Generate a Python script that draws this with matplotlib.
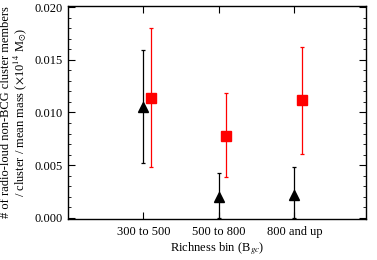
import matplotlib.pyplot as plt
from matplotlib.ticker import MultipleLocator

bins = ['300 to 500', '500 to 800', '800 and up']
pos = [1, 2, 3]

black_y = [0.0105, 0.0020, 0.0022]
black_lo = [0.0052, 0.0000, 0.0000]
black_hi = [0.0159, 0.0043, 0.0048]

red_y = [0.0114, 0.0078, 0.0112]
red_lo = [0.0048, 0.0039, 0.0061]
red_hi = [0.0180, 0.0118, 0.0162]

plt.rcParams['font.family'] = ['Liberation Serif', 'DejaVu Serif']
plt.rcParams['mathtext.fontset'] = 'stix'

fig = plt.figure(figsize=(3.77, 2.60), dpi=100)
ax = fig.add_axes([0.180, 0.158, 0.791, 0.819])

bx = [p for p in pos]
rx = [p + 0.1 for p in pos]
b_err = [[y - l for y, l in zip(black_y, black_lo)], [h - y for y, h in zip(black_y, black_hi)]]
r_err = [[y - l for y, l in zip(red_y, red_lo)], [h - y for y, h in zip(red_y, red_hi)]]

ax.errorbar(bx, black_y, yerr=b_err, fmt='^', color='black', ms=6.5,
            elinewidth=0.9, capsize=1.5, capthick=0.9)
ax.errorbar(rx, red_y, yerr=r_err, fmt='s', color='#ff0000', ms=7,
            elinewidth=0.9, capsize=1.5, capthick=0.9, ecolor='#ff0000')

ax.set_xlim(0, 3.95)
ax.set_ylim(-0.0001, 0.0201)
ax.set_xticks(pos)
ax.set_xticklabels(bins, fontsize=9)
ax.set_yticks([0, 0.005, 0.010, 0.015, 0.020])
ax.set_yticklabels(['0.000', '0.005', '0.010', '0.015', '0.020'], fontsize=9)
ax.yaxis.set_minor_locator(MultipleLocator(0.001))
ax.tick_params(which='both', direction='in', top=True, right=True, colors='black')
ax.tick_params(which='major', length=5, width=0.8)
ax.tick_params(which='minor', length=2.5, width=0.6)
ax.tick_params(axis='x', pad=5)

ax.set_xlabel('Richness bin (B$_{gc}$)', fontsize=9, labelpad=2)
ax.set_ylabel('# of radio-loud non-BCG cluster members\n/ cluster / mean mass ($\\times$10$^{14}$ M$_{\\odot}$)',
              fontsize=9, linespacing=0.95)
ax.yaxis.set_label_coords(-0.178, 0.5)
ax.yaxis.label.set_va('center')

for s in ax.spines.values():
    s.set_linewidth(1.0)

fig.savefig('out.png', dpi=100)
